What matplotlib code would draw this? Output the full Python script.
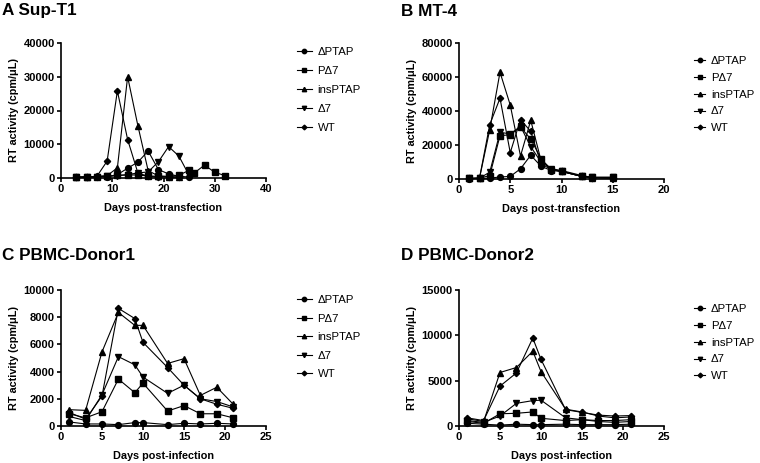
import numpy as np
import matplotlib
matplotlib.use('Agg')
import matplotlib.pyplot as plt

plt.rcParams['font.family'] = ['Liberation Sans', 'DejaVu Sans']

labels = ['ΔPTAP', 'PΔ7', 'insPTAP', 'Δ7', 'WT']
markers = ['o', 's', '^', 'v', 'D']

# A Sup-T1
a_days_dptap = [3, 5, 7, 9, 11, 13, 15, 17, 19, 21, 23, 25]
a_dptap = [200, 300, 300, 400, 1000, 2900, 4700, 8000, 2500, 1200, 500, 300]
a_days_pd7 = [3, 5, 7, 9, 11, 13, 15, 17, 19, 21, 23, 25, 26, 28, 30, 32]
a_pd7 = [200, 300, 400, 500, 800, 900, 900, 600, 500, 500, 800, 2300, 1500, 3800, 1700, 700]
a_days_ins = [3, 5, 7, 9, 11, 13, 15, 17, 19, 21, 23]
a_ins = [200, 300, 500, 700, 3000, 30000, 15500, 2200, 600, 400, 300]
a_days_d7 = [3, 5, 7, 9, 11, 13, 15, 17, 19, 21, 23, 25]
a_d7 = [200, 300, 400, 500, 700, 1000, 1500, 1800, 4800, 9300, 6500, 800]
a_days_wt = [3, 5, 7, 9, 11, 13, 15, 17, 19, 21, 23]
a_wt = [200, 300, 500, 5000, 25800, 11400, 1500, 500, 300, 300, 200]

# B MT-4
b_days = [1, 2, 3, 4, 5, 6, 7, 8, 9, 10, 12, 13, 15]
b_dptap = [200, 300, 500, 1200, 1500, 6000, 14000, 7500, 5000, 4500, 1500, 800, 500]
b_pd7 = [300, 500, 2000, 25500, 26000, 30500, 23500, 12000, 5500, 4500, 1500, 1000, 1000]
b_ins = [300, 500, 29000, 62800, 43500, 13500, 34500, 11000, 6000, 4500, 1500, 800, 500]
b_d7 = [300, 500, 4000, 27500, 26500, 31000, 19000, 10000, 6000, 5000, 2000, 1000, 1000]
b_wt = [300, 500, 32000, 47500, 15500, 35000, 28000, 9000, 5500, 4500, 1500, 800, 500]

# C PBMC-Donor1
c_days = [1, 3, 5, 7, 9, 10, 13, 15, 17, 19, 21]
c_dptap = [300, 150, 150, 100, 250, 250, 100, 200, 150, 200, 150]
c_pd7 = [900, 600, 1050, 3450, 2450, 3150, 1100, 1500, 900, 900, 600]
c_ins = [1200, 1150, 5450, 8350, 7400, 7400, 4600, 4950, 2250, 2850, 1600]
c_d7 = [700, 400, 2300, 5100, 4500, 3600, 2400, 3000, 2000, 1800, 1400]
c_wt = [1000, 500, 2200, 8650, 7900, 6150, 4300, 3000, 2000, 1600, 1300]

# D PBMC-Donor2
d_days = [1, 3, 5, 7, 9, 10, 13, 15, 17, 19, 21]
d_dptap = [300, 200, 100, 200, 150, 150, 200, 150, 150, 150, 200]
d_pd7 = [500, 300, 1350, 1400, 1550, 850, 600, 700, 500, 400, 500]
d_ins = [800, 500, 5900, 6450, 8250, 6000, 1850, 1550, 1100, 900, 1000]
d_d7 = [600, 400, 1100, 2500, 2800, 2850, 900, 700, 600, 600, 700]
d_wt = [900, 600, 4400, 5850, 9700, 7350, 1800, 1500, 1200, 1100, 1150]

W, H = 760, 463
fig = plt.figure(figsize=(W / 100, H / 100), dpi=100)


def px_axes(l, t, r, b):
    return fig.add_axes([l / W, 1 - b / H, (r - l) / W, (b - t) / H])


def panel(ax, series, xmax, xstep, ymax, ystep, xlabel, leg_xy, leg_space, hlen):
    for (xs, ys), lab, m in zip(series, labels, markers):
        ms = {'o': 4.2, 's': 4.0, '^': 4.2, 'v': 4.2, 'D': 3.2}[m]
        ax.plot(xs, ys, color='black', lw=0.8, marker=m, ms=ms, mfc='black',
                mec='black', label=lab, clip_on=False, zorder=3)
    ax.set_xlim(0, xmax)
    ax.set_ylim(0, ymax)
    ax.set_xticks(np.arange(0, xmax + 1, xstep))
    ax.set_yticks(np.arange(0, ymax + 1, ystep))
    for s in ['top', 'right']:
        ax.spines[s].set_visible(False)
    for s in ['left', 'bottom']:
        ax.spines[s].set_linewidth(1.2)
    ax.tick_params(width=1.2, length=3, labelsize=8, pad=1.5)
    for t in ax.get_xticklabels() + ax.get_yticklabels():
        t.set_fontweight('bold')
    ax.set_xlabel(xlabel, fontsize=7.8, fontweight='bold', labelpad=6)
    ax.set_ylabel('RT activity (cpm/μL)', fontsize=7.8, fontweight='bold', labelpad=3)
    ax.legend(loc='upper left', bbox_to_anchor=(leg_xy[0] / W, 1 - leg_xy[1] / H),
              bbox_transform=fig.transFigure, frameon=False, fontsize=8.2,
              handlelength=hlen, handletextpad=0.5, labelspacing=leg_space,
              borderaxespad=0, borderpad=0, markerscale=0.75)


axA = px_axes(61, 43, 266, 178)
panel(axA, [(a_days_dptap, a_dptap), (a_days_pd7, a_pd7), (a_days_ins, a_ins),
            (a_days_d7, a_d7), (a_days_wt, a_wt)],
      40, 10, 40000, 10000, 'Days post-transfection', (297, 47), 0.8, 1.3)

axB = px_axes(459, 43, 664, 179)
panel(axB, [(b_days, b_dptap), (b_days, b_pd7), (b_days, b_ins),
            (b_days, b_d7), (b_days, b_wt)],
      20, 5, 80000, 20000, 'Days post-transfection', (694, 56), 0.6, 1.0)

axC = px_axes(61, 290, 266, 426)
panel(axC, [(c_days, c_dptap), (c_days, c_pd7), (c_days, c_ins),
            (c_days, c_d7), (c_days, c_wt)],
      25, 5, 10000, 2000, 'Days post-infection', (297, 295), 0.75, 1.3)

axD = px_axes(459, 290, 664, 426)
panel(axD, [(d_days, d_dptap), (d_days, d_pd7), (d_days, d_ins),
            (d_days, d_d7), (d_days, d_wt)],
      25, 5, 15000, 5000, 'Days post-infection', (694, 304), 0.6, 1.0)

titles = [('A Sup-T1', 2, 11), ('B MT-4', 401, 11),
          ('C PBMC-Donor1', 2, 255), ('D PBMC-Donor2', 401, 255)]
for txt, x, y in titles:
    fig.text(x / W, 1 - y / H, txt, fontsize=12.3, fontweight='bold', va='center', ha='left')

fig.savefig('out.png', dpi=100)
